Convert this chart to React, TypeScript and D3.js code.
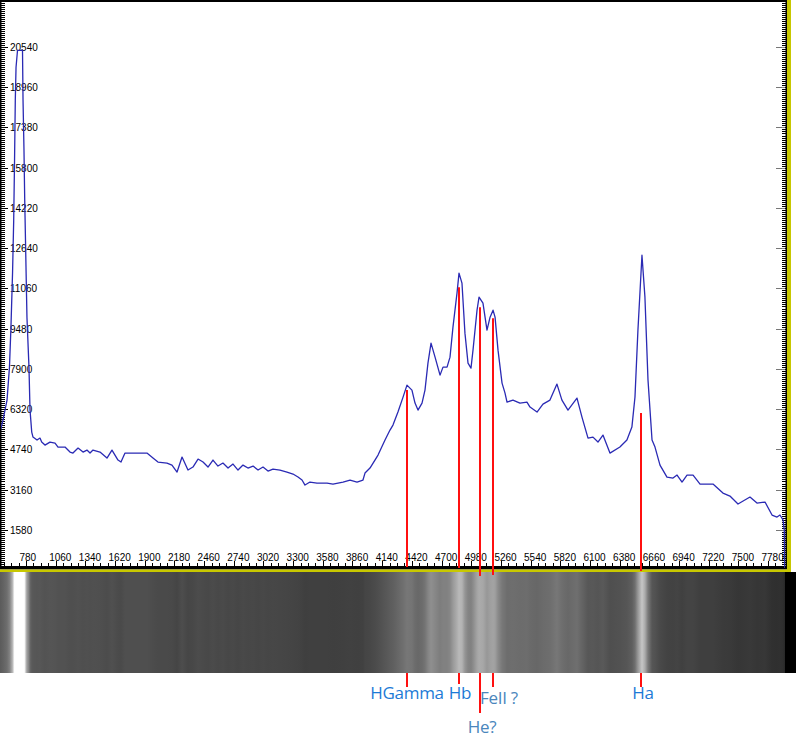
import React from 'react';
import * as d3 from 'd3';

// Spectrum (calibrated wavelength, intensity)
const wavelength = [
  535, 563, 601, 624, 638, 653, 664, 672, 679, 686, 700, 747, 752, 761, 768, 780, 789, 808, 818, 834,
  846, 884, 912, 928, 959, 1006, 1054, 1082, 1148, 1195, 1223, 1271, 1318, 1355, 1384, 1412, 1478, 1544, 1591, 1648,
  1676, 1714, 1789, 1921, 1978, 2025, 2110, 2157, 2205, 2252, 2308, 2355, 2403, 2450, 2497, 2544, 2591, 2638, 2686, 2733,
  2780, 2827, 2874, 2922, 2969, 3016, 3063, 3110, 3176, 3242, 3299, 3346, 3384, 3412, 3459, 3525, 3620, 3676, 3771, 3837,
  3903, 3959, 3978, 4025, 4072, 4101, 4167, 4214, 4242, 4289, 4337, 4374, 4421, 4450, 4478, 4516, 4544, 4572, 4601, 4639,
  4686, 4714, 4752, 4780, 4808, 4846, 4865, 4893, 4921, 4950, 4978, 4997, 5035, 5054, 5091, 5129, 5158, 5186, 5205, 5233,
  5271, 5299, 5318, 5374, 5440, 5506, 5535, 5601, 5657, 5723, 5789, 5836, 5893, 5978, 6025, 6082, 6129, 6176, 6223, 6289,
  6383, 6449, 6496, 6525, 6553, 6591, 6619, 6648, 6686, 6714, 6761, 6827, 6884, 6922, 6969, 7016, 7073, 7139, 7261, 7355,
  7421, 7497, 7610, 7676, 7752, 7818, 7865, 7893, 7922, 7934, 7938,
];
const intensity = [
  5417, 5888, 6673, 7968, 9538, 11657, 13738, 16093, 18448, 19743, 20410, 20410, 18448, 16485, 14523, 11893, 9930, 7968, 6280, 5417,
  5220, 5103, 5181, 5024, 4906, 5024, 4985, 4828, 4828, 4632, 4592, 4789, 4632, 4710, 4592, 4710, 4632, 4396, 4710, 4318,
  4239, 4592, 4592, 4592, 4396, 4239, 4200, 4121, 3847, 4435, 3925, 4043, 4357, 4239, 4043, 4318, 4082, 4200, 4004, 4161,
  3925, 4121, 4004, 4082, 3925, 4043, 3886, 3964, 3925, 3847, 3768, 3650, 3533, 3336, 3454, 3415, 3415, 3376, 3454, 3533,
  3454, 3533, 3807, 4004, 4318, 4514, 5103, 5495, 5691, 6202, 6790, 7261, 7065, 6555, 6280, 6555, 7065, 8125, 8910, 8360,
  7654, 7968, 7968, 8360, 9538, 10872, 11657, 11265, 9302, 8125, 7929, 8635, 10205, 10715, 10480, 9420, 9930, 10205, 9930, 8635,
  7340, 6947, 6594, 6673, 6555, 6594, 6398, 6202, 6516, 6673, 7301, 6673, 6280, 6751, 6005, 5181, 5220, 5024, 5299, 4592,
  4828, 5103, 5613, 6790, 9420, 12364, 10715, 7458, 5103, 4828, 4121, 3650, 3611, 3729, 3454, 3729, 3729, 3376, 3376, 3022,
  2905, 2591, 2865, 2630, 2669, 2159, 2080, 2159, 1963, 1570, 80,
];

const xTickValues = [780, 1060, 1340, 1620, 1900, 2180, 2460, 2740, 3020, 3300, 3580, 3860, 4140, 4420, 4700, 4980, 5260, 5540, 5820, 6100, 6380, 6660, 6940, 7220, 7500, 7780];
const yTickValues = [1580, 3160, 4740, 6320, 7900, 9480, 11060, 12640, 14220, 15800, 17380, 18960, 20540];

// Identified lines
const lineNames = ['HGamma', 'Hb', 'He?', 'FeII ?', 'Ha'];
const lineWavelength = [4374, 4865, 5063, 5181, 6582];
const lineTopIntensity = [7065, 11108, 10323, 9891, 6162];

export default function App() {
  const W = 796;
  const H = 749;
  const x = d3.scaleLinear().domain([780, 7780]).range([26, 768]);
  const y = d3.scaleLinear().domain([0, 20540]).range([570, 47]);

  const pts: [number, number][] = wavelength.map((w, i) => [w, intensity[i]]);
  const line = d3.line<[number, number]>().x((d) => x(d[0])).y((d) => y(d[1]));

  const gray = d3.scaleLinear().domain([1500, 4700, 12000, 15000]).range([40, 80, 190, 255]).clamp(true);
  const stripRight = 785;

  const plotRight = 787;
  const axisTop = 566;

  const leftMinor = d3.range(0, 22600, 79).map((v) => Math.round(y(v))).filter((p) => p > 2 && p < 565);
  const bottomMinor = d3.range(500, 7950, 70).map((v) => Math.round(x(v))).filter((p) => p > 2 && p < 783);

  const labelStyle: Record<string, { color: string; baseline: number; tickEnd: number; plotEnd: number; dx: number }> = {
    'HGamma': { color: '#1c7ad6', baseline: 699, tickEnd: 687, plotEnd: 567, dx: 0 },
    'Hb': { color: '#1c7ad6', baseline: 699, tickEnd: 684, plotEnd: 568, dx: 1 },
    'He?': { color: '#4a86bc', baseline: 733, tickEnd: 713, plotEnd: 576, dx: 2 },
    'FeII ?': { color: '#4a86bc', baseline: 704, tickEnd: 687, plotEnd: 575, dx: 6 },
    'Ha': { color: '#1c7ad6', baseline: 699, tickEnd: 687, plotEnd: 571, dx: 2 },
  };

  return (
    <svg width={W} height={H} style={{ position: 'absolute', left: 0, top: 0, background: '#fff' }}>
      <defs>
        <clipPath id="plotClip">
          <rect x={1} y={2} width={784} height={566} />
        </clipPath>
        <linearGradient id="stripGrad" gradientUnits="userSpaceOnUse" x1={0} x2={stripRight} y1={0} y2={0}>
          {pts.map((d, i) => {
            const g = Math.round(gray(d[1]));
            const off = Math.max(0, Math.min(1, x(d[0]) / stripRight));
            return <stop key={i} offset={off} stopColor={`rgb(${g},${g},${g})`} />;
          })}
        </linearGradient>
      </defs>

      <rect x={0} y={0} width={W} height={H} fill="#fff" />

      {/* spectrum strip */}
      <rect x={0} y={572} width={stripRight} height={101} fill="url(#stripGrad)" />
      <rect x={stripRight} y={572} width={W - stripRight} height={101} fill="#000" />

      {/* frame */}
      <rect x={0} y={0} width={plotRight + 1} height={2} fill="#000" />
      <rect x={0} y={0} width={1.5} height={569} fill="#000" />
      {leftMinor.map((p, i) => (
        <rect key={'lm' + i} x={0} y={p} width={5} height={1} fill="#000" />
      ))}
      {yTickValues.map((v) => (
        <rect key={'lM' + v} x={0} y={Math.round(y(v))} width={8} height={1} fill="#000" />
      ))}
      {/* right ruler */}
      <rect x={785.5} y={0} width={1.5} height={569} fill="#000" />
      {leftMinor.map((p, i) => (
        <rect key={'rm' + i} x={782} y={p} width={5} height={1} fill="#000" />
      ))}
      {yTickValues.map((v) => (
        <rect key={'rM' + v} x={776} y={Math.round(y(v))} width={9} height={1} fill="#777" />
      ))}
      <rect x={787} y={0} width={4} height={572} fill="#c8c800" />

      {/* bottom axis */}
      {bottomMinor.map((p, i) => (
        <rect key={'bm' + i} x={p} y={563} width={1} height={3} fill="#000" />
      ))}
      {xTickValues.map((v) => (
        <rect key={'bM' + v} x={Math.round(x(v))} y={561} width={1} height={5} fill="#000" />
      ))}
      <rect x={0} y={axisTop} width={plotRight} height={3.5} fill="#000" />
      <rect x={0} y={569.5} width={791} height={2.5} fill="#c8c800" />

      {/* tick labels */}
      <g fontFamily="'Liberation Sans', Arial, sans-serif" fontSize={10} fill="#000">
        {yTickValues.map((v) => (
          <text key={'yl' + v} x={10} y={y(v) + 4}>{v}</text>
        ))}
        {xTickValues.map((v) => (
          <text key={'xl' + v} x={x(v) - 6.5} y={561}>{v}</text>
        ))}
      </g>

      {/* spectrum curve */}
      <path d={line(pts) || ''} fill="none" stroke="#2a2ab4" strokeWidth={1.3} clipPath="url(#plotClip)" strokeLinejoin="round" />

      {/* line markers */}
      {lineNames.map((n, i) => {
        const s = labelStyle[n];
        const px = Math.round(x(lineWavelength[i]));
        return (
          <g key={n}>
            <line x1={px} x2={px} y1={y(lineTopIntensity[i])} y2={s.plotEnd} stroke="#ff1010" strokeWidth={2} />
            <line x1={px} x2={px} y1={673} y2={s.tickEnd} stroke="#ff1010" strokeWidth={2} />
            <text x={px + s.dx} y={s.baseline} textAnchor="middle" fontFamily="'Open Sans', 'Noto Sans', sans-serif" fontSize={17} fill={s.color} letterSpacing={-0.3}>
              {n}
            </text>
          </g>
        );
      })}
    </svg>
  );
}
